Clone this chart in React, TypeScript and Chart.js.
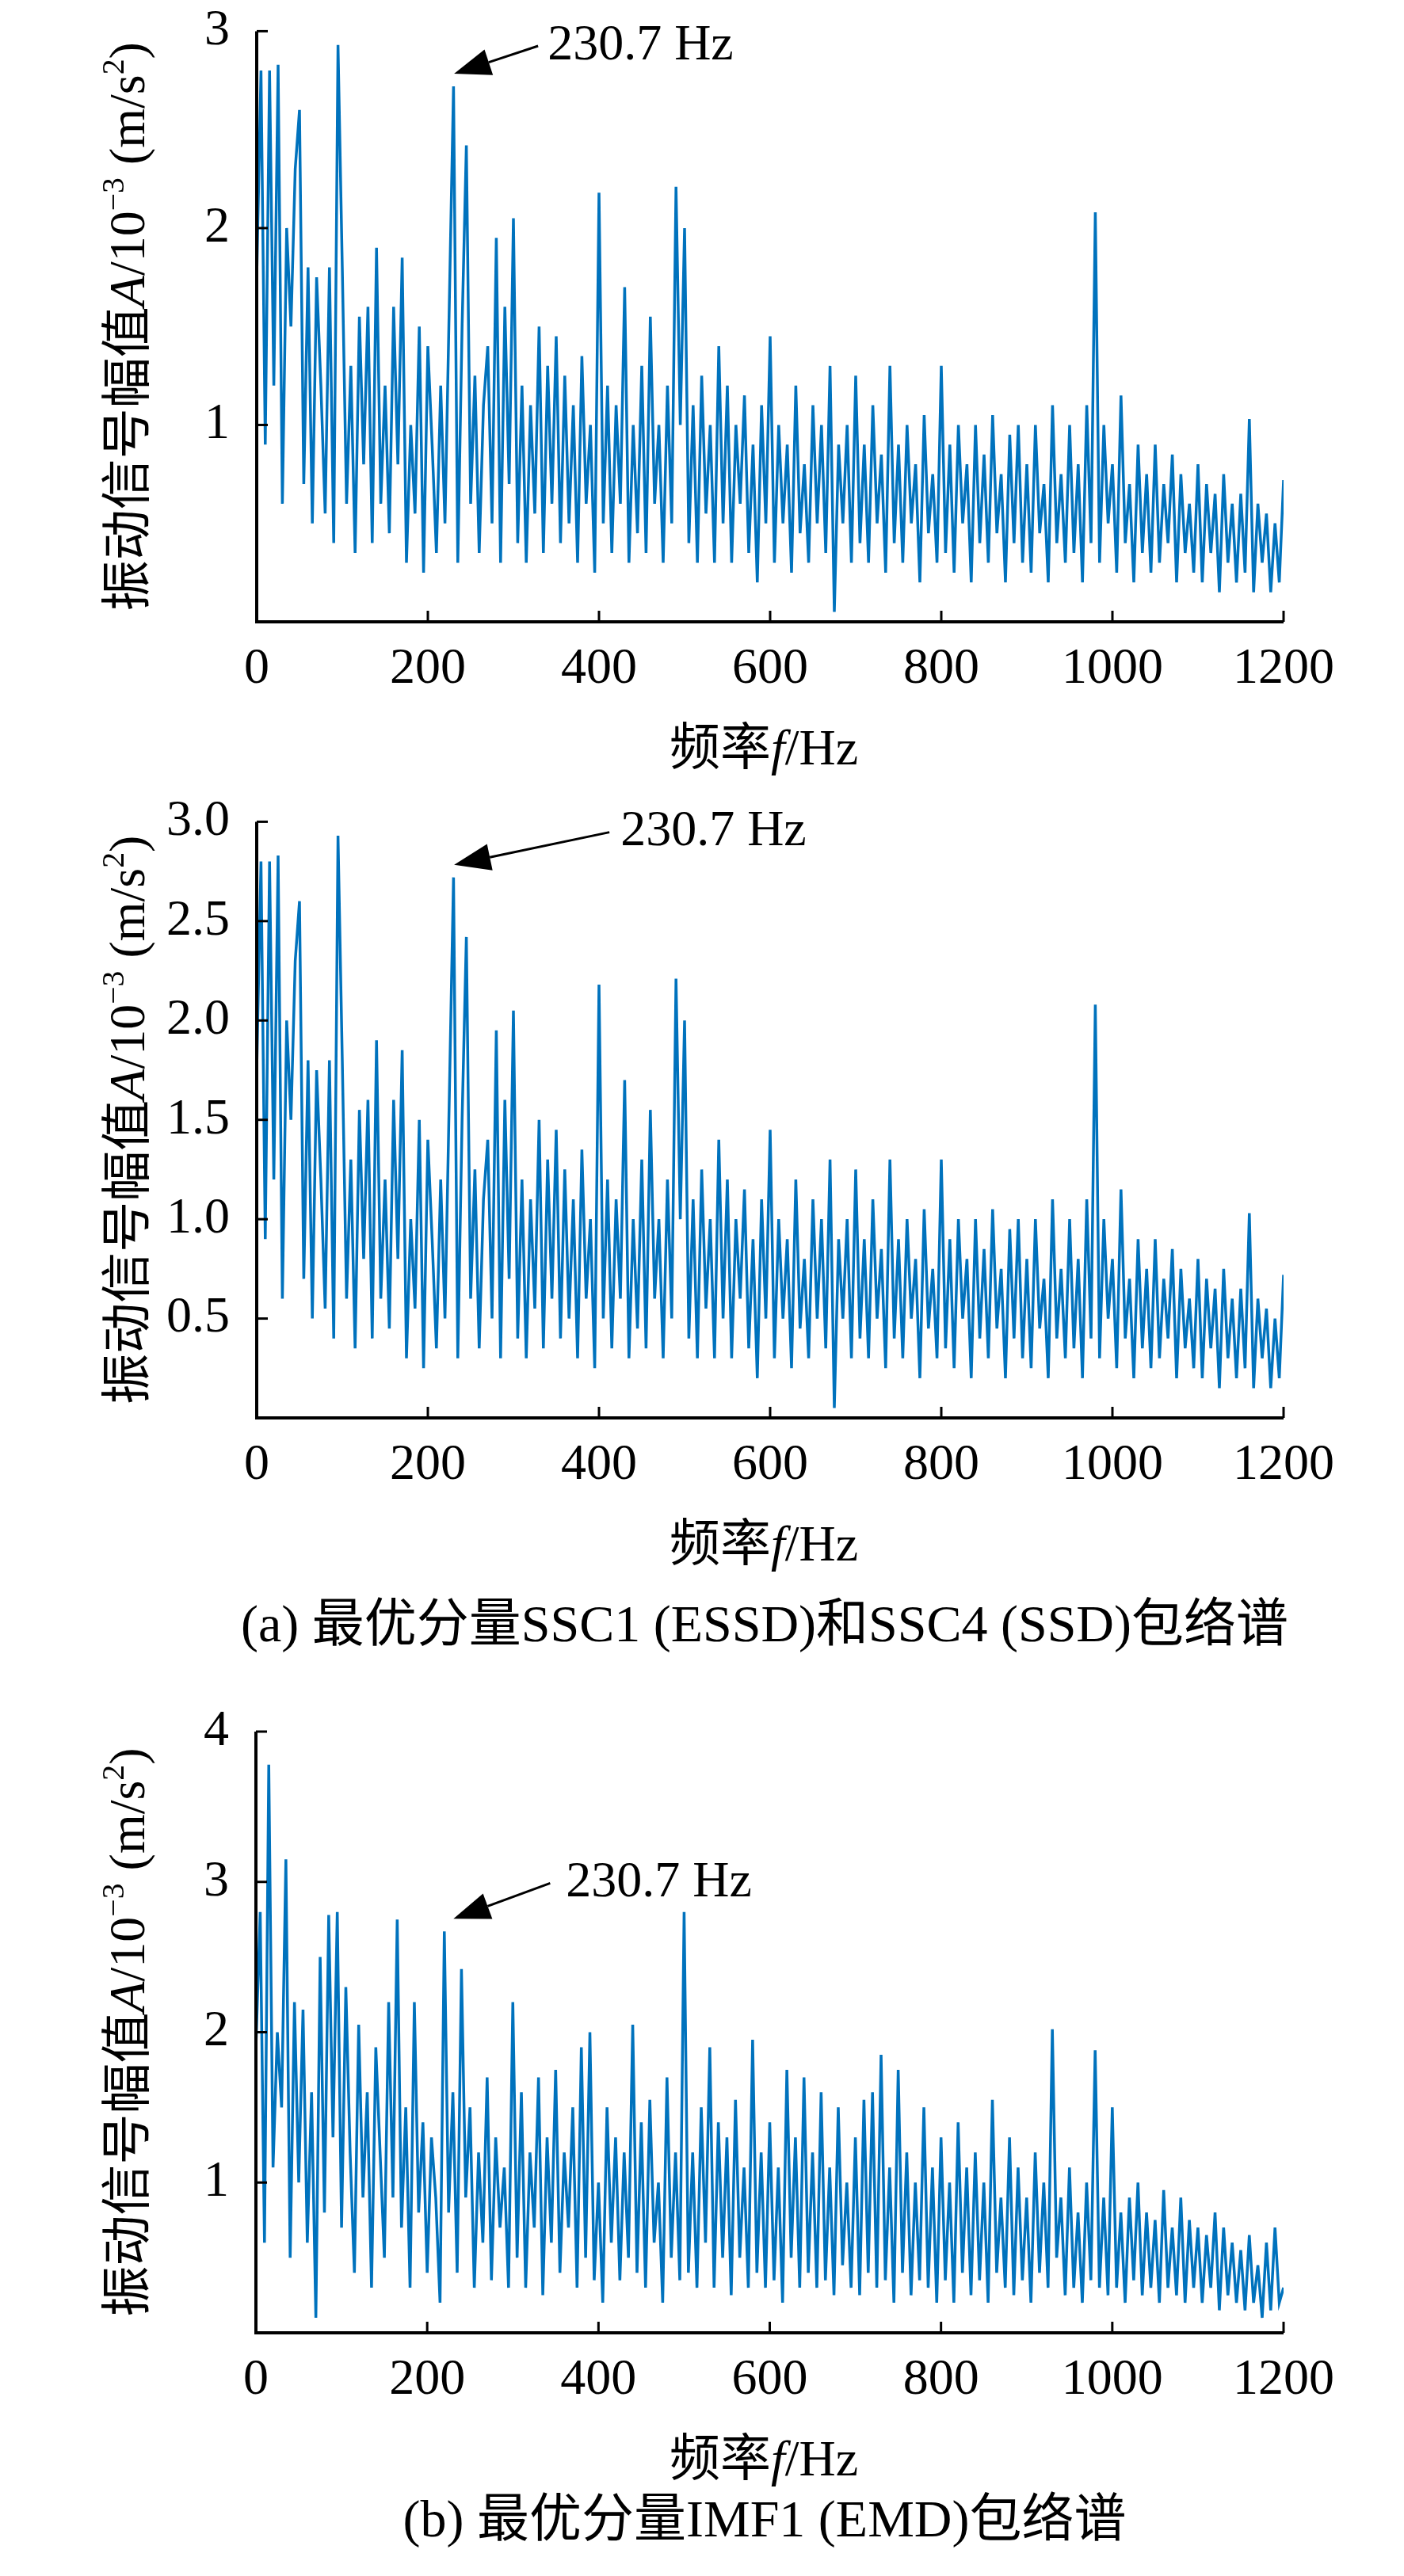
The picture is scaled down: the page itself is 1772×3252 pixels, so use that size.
import React, { useEffect, useRef } from "react";
import { Chart, registerables } from "chart.js";
Chart.register(...registerables);

const STEP_HZ = 5;
const seriesSSC: number[] = [
  1.75,2.8,0.9,2.8,1.2,2.83,0.6,2.0,1.5,2.3,
  2.6,0.7,1.8,0.5,1.75,1.2,0.55,1.8,0.4,2.93,
  1.8,0.6,1.3,0.35,1.55,0.8,1.6,0.4,1.9,0.6,
  1.2,0.45,1.6,0.8,1.85,0.3,1.0,0.55,1.5,0.25,
  1.4,0.9,0.35,1.2,0.5,1.6,2.72,0.3,1.5,2.42,
  0.6,1.25,0.35,1.1,1.4,0.5,1.95,0.3,1.6,0.7,
  2.05,0.4,1.2,0.3,1.1,0.55,1.5,0.35,1.3,0.6,
  1.45,0.4,1.25,0.5,1.1,0.3,1.35,0.6,1.0,0.25,
  2.18,0.5,1.2,0.35,1.1,0.6,1.7,0.3,1.0,0.45,
  1.3,0.35,1.55,0.6,1.0,0.3,1.2,0.5,2.21,1.0,
  2.0,0.4,1.1,0.3,1.25,0.55,1.0,0.3,1.4,0.5,
  1.2,0.3,1.0,0.6,1.15,0.35,0.9,0.2,1.1,0.5,
  1.45,0.3,1.0,0.5,0.9,0.25,1.2,0.45,0.8,0.3,
  1.1,0.5,1.0,0.35,1.3,0.05,0.9,0.5,1.0,0.3,
  1.25,0.4,0.9,0.3,1.1,0.5,0.85,0.25,1.3,0.4,
  0.9,0.3,1.0,0.5,0.8,0.2,1.05,0.45,0.75,0.3,
  1.3,0.35,0.9,0.25,1.0,0.5,0.8,0.2,1.0,0.4,
  0.85,0.3,1.05,0.45,0.75,0.2,0.95,0.4,1.0,0.3,
  0.8,0.25,1.0,0.45,0.7,0.2,1.1,0.4,0.75,0.3,
  1.0,0.35,0.8,0.2,1.1,0.4,2.08,0.3,1.0,0.5,
  0.8,0.25,1.15,0.4,0.7,0.2,0.9,0.35,0.75,0.25,
  0.9,0.3,0.7,0.4,0.85,0.2,0.75,0.35,0.6,0.25,
  0.8,0.2,0.7,0.35,0.65,0.15,0.75,0.3,0.6,0.2,
  0.65,0.25,1.03,0.15,0.6,0.3,0.55,0.15,0.5,0.2,
  0.72,
];
const seriesIMF: number[] = [
  1.9,2.8,0.6,3.78,1.1,2.0,1.5,3.15,0.5,2.2,
  1.0,2.15,0.6,1.6,0.1,2.5,0.8,2.78,1.3,2.8,
  0.7,2.3,1.2,0.4,2.05,0.9,1.6,0.3,1.9,1.2,
  0.5,2.2,0.9,2.75,0.7,1.5,0.3,2.2,0.8,1.4,
  0.4,1.3,0.9,0.2,2.67,0.8,1.6,0.4,2.42,0.9,
  1.5,0.3,1.2,0.6,1.7,0.35,1.3,0.7,1.1,0.3,
  2.2,0.5,1.6,0.3,1.2,0.7,1.7,0.25,1.3,0.6,
  1.75,0.4,1.2,0.7,1.5,0.3,1.9,0.5,2.0,0.35,
  1.0,0.2,1.5,0.6,1.3,0.35,1.2,0.5,2.05,0.4,
  1.4,0.3,1.55,0.6,1.0,0.2,1.7,0.5,1.2,0.35,
  2.8,0.4,1.2,0.3,1.5,0.6,1.9,0.3,1.4,0.5,
  1.3,0.25,1.55,0.5,1.1,0.3,1.95,0.4,1.2,0.3,
  1.4,0.35,1.1,0.2,1.75,0.5,1.3,0.3,1.7,0.4,
  1.2,0.3,1.6,0.35,1.1,0.25,1.5,0.45,1.0,0.3,
  1.3,0.25,1.55,0.4,1.6,0.3,1.85,0.35,1.1,0.2,
  1.75,0.4,1.2,0.25,1.0,0.35,1.5,0.3,1.1,0.2,
  1.3,0.35,1.0,0.2,1.4,0.4,1.1,0.25,1.2,0.35,
  1.0,0.2,1.55,0.4,0.9,0.3,1.3,0.25,1.1,0.35,
  0.9,0.2,1.2,0.4,1.0,0.3,2.02,0.5,0.9,0.25,
  1.1,0.3,0.8,0.2,1.0,0.35,1.88,0.3,0.9,0.25,
  1.5,0.3,0.8,0.2,0.9,0.35,1.0,0.25,0.8,0.3,
  0.75,0.2,0.95,0.3,0.7,0.25,0.9,0.2,0.75,0.3,
  0.7,0.2,0.65,0.3,0.8,0.15,0.7,0.25,0.6,0.2,
  0.55,0.15,0.65,0.2,0.45,0.1,0.6,0.15,0.7,0.2,
  0.3,
];
const annotationText = "230.7 Hz";
const peakFreq = 230.7;
const captionA = "(a) 最优分量SSC1 (ESSD)和SSC4 (SSD)包络谱";
const captionB = "(b) 最优分量IMF1 (EMD)包络谱";

const SERIF = "'Liberation Serif', 'Times New Roman', serif";
const CJK = "'Noto Sans CJK SC', sans-serif";
const FS = 64;

type Cfg = {
  top: number; height: number; values: number[]; yMax: number; yStep: number; decimals: number;
  padTop: number; xH: number; left: number; peak: number; tail: [number, number]; textX: number;
};

function drawSeg(ctx: CanvasRenderingContext2D, segs: [string, string, number?][], x: number, y: number) {
  let cx = x;
  for (const [t, font, dy] of segs) {
    ctx.font = font;
    ctx.fillText(t, cx, y + (dy || 0));
    cx += ctx.measureText(t).width;
  }
  return cx - x;
}
function segWidth(ctx: CanvasRenderingContext2D, segs: [string, string, number?][]) {
  let w = 0;
  for (const [t, font] of segs) { ctx.font = font; w += ctx.measureText(t).width; }
  return w;
}

function Panel({ c }: { c: Cfg }) {
  const ref = useRef<HTMLCanvasElement>(null);
  useEffect(() => {
    const pts = c.values.map((v, i) => ({ x: i * STEP_HZ, y: v }));
    const deco = {
      id: "deco",
      afterDraw(chart: any) {
        const ctx = chart.ctx as CanvasRenderingContext2D;
        const xs = chart.scales.x, ys = chart.scales.y, a = chart.chartArea;
        ctx.save();
        ctx.strokeStyle = "#000"; ctx.lineWidth = 4;
        ctx.beginPath();
        ctx.moveTo(a.left, a.top); ctx.lineTo(a.left, a.bottom); ctx.lineTo(a.right, a.bottom);
        ctx.stroke();
        ctx.lineWidth = 3;
        xs.ticks.forEach((_t: any, i: number) => {
          const p = xs.getPixelForTick(i);
          ctx.beginPath(); ctx.moveTo(p, a.bottom); ctx.lineTo(p, a.bottom - 14); ctx.stroke();
        });
        ys.ticks.forEach((_t: any, i: number) => {
          const p = ys.getPixelForTick(i);
          ctx.beginPath(); ctx.moveTo(a.left, p); ctx.lineTo(a.left + 14, p); ctx.stroke();
        });
        const tx = xs.getPixelForValue(peakFreq);
        const ty = ys.getPixelForValue(c.peak) - 16;
        const ex = tx + c.tail[0], ey = ty + c.tail[1];
        const ang = Math.atan2(ty - ey, tx - ex);
        ctx.fillStyle = "#000";
        const hl = 46, hw = 17;
        const bx = tx - hl * Math.cos(ang), by = ty - hl * Math.sin(ang);
        ctx.beginPath(); ctx.moveTo(ex, ey); ctx.lineTo(bx, by); ctx.stroke();
        ctx.beginPath();
        ctx.moveTo(tx, ty);
        ctx.lineTo(bx + hw * Math.sin(ang), by - hw * Math.cos(ang));
        ctx.lineTo(bx - hw * Math.sin(ang), by + hw * Math.cos(ang));
        ctx.closePath(); ctx.fill();
        ctx.font = `${FS}px ${SERIF}`;
        ctx.textBaseline = "middle"; ctx.textAlign = "left";
        ctx.fillText(annotationText, ex + c.textX, ey);
        ctx.textBaseline = "alphabetic";
        const xt: [string, string, number?][] = [["频率", `${FS}px ${CJK}`], ["f", `italic ${FS}px ${SERIF}`], ["/Hz", `${FS}px ${SERIF}`]];
        const xw = segWidth(ctx, xt);
        drawSeg(ctx, xt, 964 - xw / 2, a.bottom + 180);
        const small = `${FS * 0.62}px ${SERIF}`;
        const yt: [string, string, number?][] = [
          ["振动信号幅值", `${FS}px ${CJK}`], ["A", `italic ${FS}px ${SERIF}`], ["/10", `${FS}px ${SERIF}`],
          ["−3", small, -26], [" (m/s", `${FS}px ${SERIF}`], ["2", small, -26], [")", `${FS}px ${SERIF}`],
        ];
        const yw = segWidth(ctx, yt);
        ctx.translate(182, (a.top + a.bottom) / 2);
        ctx.rotate(-Math.PI / 2);
        drawSeg(ctx, yt, -yw / 2, 0);
        ctx.restore();
      },
    };
    const chart = new Chart(ref.current!, {
      type: "line",
      data: { datasets: [{ data: pts, borderColor: "#0072BD", borderWidth: 3.5, pointRadius: 0, tension: 0 }] },
      options: {
        animation: false, responsive: false,
        layout: { padding: { top: c.padTop, right: 152, left: 0, bottom: 0 } },
        plugins: { legend: { display: false }, tooltip: { enabled: false } },
        scales: {
          x: {
            type: "linear", min: 0, max: 1200,
            border: { display: false },
            grid: { display: false },
            ticks: { stepSize: 200, color: "#000", font: { family: SERIF, size: FS }, padding: 14, maxRotation: 0,
              callback: (v: any) => String(v) },
            afterFit: (s: any) => { s.height = c.xH; },
          },
          y: {
            min: 0, max: c.yMax,
            border: { display: false },
            grid: { display: false },
            ticks: {
              stepSize: c.yStep, color: "#000", font: { family: SERIF, size: FS }, padding: 26,
              callback: (v: any) => (Number(v) === 0 ? "" : Number(v).toFixed(c.decimals)),
            },
            afterFit: (s: any) => { s.width = c.left; },
          },
        },
      },
      plugins: [deco],
    } as any);
    return () => chart.destroy();
  }, []);
  return (
    <canvas ref={ref} width={1772} height={c.height}
      style={{ position: "absolute", left: 0, top: c.top, width: 1772, height: c.height }} />
  );
}

const cfgs: Cfg[] = [
  { top: -25, height: 1025, values: seriesSSC, yMax: 3, yStep: 1, decimals: 0, padTop: 11, xH: 215, left: 324, peak: 2.72, tail: [106, -35], textX: 12 },
  { top: 973, height: 1027, values: seriesSSC, yMax: 3, yStep: 0.5, decimals: 1, padTop: 3, xH: 210, left: 324, peak: 2.72, tail: [196, -41], textX: 14 },
  { top: 2100, height: 1100, values: seriesIMF, yMax: 4, yStep: 1, decimals: 0, padTop: 86, xH: 255, left: 323, peak: 2.67, tail: [122, -45], textX: 20 },
];

export default function App() {
  const cap: React.CSSProperties = {
    position: "absolute", left: 0, width: 1930, textAlign: "center",
    fontFamily: `${SERIF}, ${CJK}`, fontSize: 66, color: "#000", lineHeight: "70px",
  };
  return (
    <div style={{ position: "absolute", left: 0, top: 0, width: 1772, height: 3252, background: "#fff" }}>
      {cfgs.map((c, i) => <Panel key={i} c={c} />)}
      <div style={{ ...cap, top: 2015 }}>{captionA}</div>
      <div style={{ ...cap, top: 3145 }}>{captionB}</div>
    </div>
  );
}
